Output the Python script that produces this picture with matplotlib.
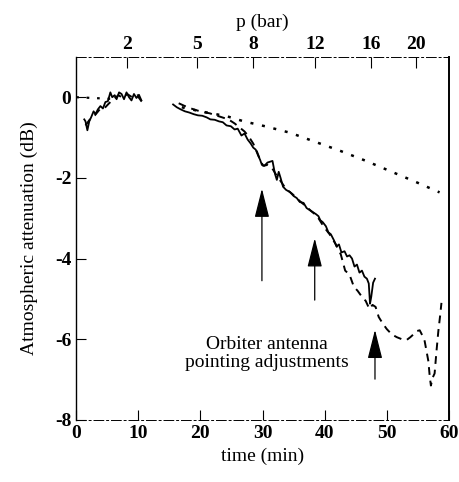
import matplotlib
matplotlib.use("Agg")
import matplotlib.pyplot as plt

plt.rcParams['font.family'] = ['Liberation Serif', 'DejaVu Serif']
plt.rcParams['axes.unicode_minus'] = False

# first pass (before the gap), time in min, attenuation in dB
solid_t1 = [1.3, 1.5, 1.8, 2.1, 2.4, 2.8, 3.1, 3.5, 3.9, 4.3, 4.7, 5.1, 5.5, 5.8, 6.2,
            6.5, 6.9, 7.3, 7.7, 8.1, 8.5, 8.9, 9.3, 9.7, 10.1, 10.5]
solid_y1 = [-0.55, -0.6, -0.82, -0.6, -0.5, -0.35, -0.42, -0.3, -0.22, -0.28, -0.12, -0.1,
            0.12, 0.0, 0.05, -0.05, 0.12, 0.08, -0.05, 0.12, 0.0, -0.08, 0.08, -0.02, 0.06, -0.08]
dash_t1 = [1.5, 2.2, 3.0, 3.8, 4.5, 5.3, 6.0, 6.8, 7.5, 8.2, 9.0, 9.8, 10.5, 11.0]
dash_y1 = [-0.7, -0.55, -0.45, -0.3, -0.28, -0.15, -0.05, 0.05, -0.02, 0.08, 0.0, 0.05, -0.1, -0.15]

# second pass
solid_t2 = [15.6, 16.2, 16.8, 17.5, 18.2, 18.9, 19.6, 20.3, 21.0, 21.6, 22.3, 23.0, 23.6, 24.2,
            24.9, 25.5, 26.0, 26.6, 27.1, 27.6, 28.1, 28.5, 28.9, 29.3, 29.6, 29.9, 30.3, 30.8,
            31.2, 31.6, 32.0, 32.3, 32.6, 32.9, 33.3, 33.8, 34.4, 35.0, 35.5, 36.0, 36.6, 37.1,
            37.6, 38.1, 38.6, 39.0, 39.3, 39.7, 40.2, 40.6, 41.0, 41.5, 41.9, 42.3, 42.7, 43.2,
            43.6, 44.0, 44.4, 44.8, 45.2, 45.6, 46.0, 46.4, 46.8, 47.1, 47.3, 47.5, 47.8, 48.1]
solid_y2 = [-0.18, -0.25, -0.3, -0.35, -0.38, -0.42, -0.45, -0.46, -0.5, -0.55, -0.56, -0.6,
            -0.62, -0.7, -0.72, -0.8, -0.78, -0.95, -0.9, -1.05, -1.15, -1.25, -1.3, -1.45,
            -1.55, -1.68, -1.7, -1.62, -1.6, -1.58, -1.9, -2.05, -1.85, -2.0, -2.22, -2.3,
            -2.35, -2.45, -2.5, -2.6, -2.62, -2.75, -2.8, -2.85, -2.9, -2.95, -3.05, -3.1,
            -3.2, -3.35, -3.4, -3.55, -3.7, -3.65, -3.85, -3.82, -3.95, -3.92, -4.0, -4.2,
            -4.15, -4.35, -4.3, -4.45, -4.5, -4.62, -5.12, -4.95, -4.6, -4.5]
dash_t2 = [16.5, 17.5, 18.5, 19.5, 20.5, 21.5, 22.5, 23.5, 24.5, 25.5, 26.3, 27.1, 27.8, 28.5,
           29.1, 29.6, 30.1, 30.8, 31.5, 32.3, 33.0, 33.8, 34.8, 35.8, 36.8, 37.8, 38.8, 39.8,
           40.8, 41.8, 42.6, 43.3, 44.0, 44.7, 45.3, 46.0, 46.6, 47.2, 47.7, 48.2, 48.7, 49.3,
           50.0, 50.8, 51.6, 52.4, 53.2, 53.8, 54.3, 54.8, 55.3, 55.7, 56.1, 56.4, 56.7, 56.9,
           57.1, 57.4, 57.7, 58.0, 58.3, 58.6, 58.8]
dash_y2 = [-0.15, -0.22, -0.28, -0.33, -0.37, -0.4, -0.45, -0.5, -0.55, -0.65, -0.75, -0.85,
           -0.98, -1.15, -1.35, -1.55, -1.7, -1.68, -1.75, -1.95, -2.1, -2.28, -2.4, -2.55,
           -2.68, -2.82, -2.95, -3.2, -3.4, -3.65, -3.9, -4.3, -4.4, -4.7, -4.8, -4.95, -5.05,
           -5.25, -5.15, -5.2, -5.45, -5.6, -5.75, -5.88, -5.95, -6.0, -6.02, -5.95, -5.88,
           -5.8, -5.78, -5.9, -6.05, -6.3, -6.55, -6.9, -7.15, -6.95, -6.85, -6.3, -5.8, -5.4, -5.1]

# model (dotted)
model_t1 = [0.0, 5.5]
model_y1 = [0.0, -0.04]
model_t2 = [17.0, 20.0, 24.2, 27.0, 30.4, 34.4, 38.0, 42.5, 46.5, 50.5, 54.5, 58.5]
model_y2 = [-0.25, -0.35, -0.47, -0.6, -0.72, -0.88, -1.08, -1.33, -1.57, -1.83, -2.09, -2.36]

# antenna pointing adjustments: time, arrow tail, arrow tip
arrow_t = [29.9, 38.4, 48.1]
arrow_tail = [-4.62, -5.1, -7.06]
arrow_tip = [-2.2, -3.43, -5.7]

# pressure axis on top
p_labels = ['2', '5', '8', '12', '16', '20']
p_times = [8.2, 19.5, 28.5, 38.5, 47.5, 54.7]

fig = plt.figure(figsize=(4.59, 4.82), dpi=100)
ax = fig.add_axes([0.166, 0.129, 0.812, 0.753])

ax.plot(model_t1, model_y1, color='black', lw=1.6, ls=(0, (1.2, 3.5)))
ax.plot(model_t2, model_y2, color='black', lw=1.8, ls=(0, (1.2, 3.5)))
ax.plot(dash_t1, dash_y1, color='black', lw=1.4, ls=(0, (4, 3)))
ax.plot(dash_t2, dash_y2, color='black', lw=1.4, ls=(0, (4, 3)))
ax.plot(solid_t1, solid_y1, color='black', lw=1.3)
ax.plot(solid_t2, solid_y2, color='black', lw=1.3)

for t, y0, y1 in zip(arrow_t, arrow_tail, arrow_tip):
    ax.annotate('', xy=(t, y1), xytext=(t, y0),
                arrowprops=dict(arrowstyle='-|>,head_length=1.5,head_width=0.38',
                                color='black', lw=0.9, mutation_scale=12))

ax.text(30.7, -6.35, 'Orbiter antenna\npointing adjustments', ha='center', va='center',
        fontsize=14, linespacing=1.05)

ax.set_xlim(0, 60)
ax.set_ylim(-8, 1)
ax.set_xticks([0, 10, 20, 30, 40, 50, 60])
ax.set_yticks([-8, -6, -4, -2, 0])
ax.tick_params(direction='in', length=7, width=0.8, labelsize=14)
for lab in ax.get_xticklabels() + ax.get_yticklabels():
    lab.set_fontweight('bold')
ax.set_xlabel('time (min)', fontsize=14, labelpad=4)
ax.set_ylabel('Atmospheric attenuation (dB)', fontsize=14, labelpad=12)

for side in ['top', 'bottom']:
    ax.spines[side].set_linestyle((0, (10, 3, 2, 3)))
    ax.spines[side].set_linewidth(0.7)
ax.spines['left'].set_linewidth(1.0)
ax.spines['right'].set_linewidth(1.4)

ax2 = ax.twiny()
ax2.set_xlim(0, 60)
ax2.set_xticks(p_times)
ax2.set_xticklabels(p_labels)
ax2.tick_params(direction='in', length=8, width=0.8, labelsize=14, pad=3)
for lab in ax2.get_xticklabels():
    lab.set_fontweight('bold')
ax2.set_xlabel('p (bar)', fontsize=14, labelpad=6)
for s in ax2.spines.values():
    s.set_visible(False)

fig.savefig('out.png', dpi=100)
